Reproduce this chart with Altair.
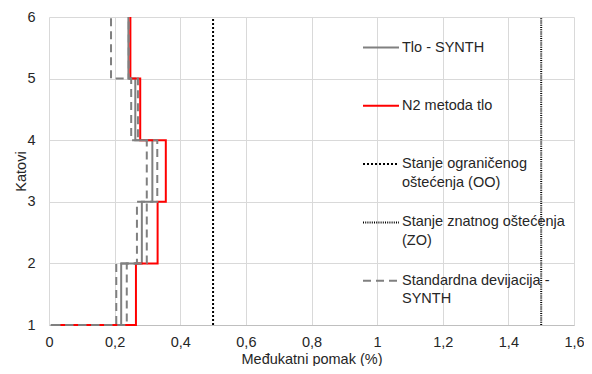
import json
import altair as alt
import pandas as pd

# ---- data ----
floors = [1, 2, 3, 4, 5, 6]
tlo_synth_start = 0.005
tlo_synth = [0.220, 0.283, 0.315, 0.263, 0.242]
n2_start = 0.025
n2_tlo = [0.265, 0.331, 0.356, 0.278, 0.248]
sd_start = 0.01
sd_low = [0.205, 0.268, 0.298, 0.2505, 0.189]
sd_high = [0.237, 0.298, 0.330, 0.271, 0.243]
oo_limit = 0.5
zo_limit = 1.5

series_names = [
    "Tlo - SYNTH",
    "N2 metoda tlo",
    "Stanje ograničenog oštećenja (OO)",
    "Stanje znatnog oštećenja (ZO)",
    "Standardna devijacija - SYNTH",
]
legend_lines = [
    ["Tlo - SYNTH", ""],
    ["N2 metoda tlo", ""],
    ["Stanje ograničenog", "oštećenja (OO)"],
    ["Stanje znatnog oštećenja", "(ZO)"],
    ["Standardna devijacija -", "SYNTH"],
]
series_colors = ["#808080", "#ff0000", "#000000", "#000000", "#808080"]
series_dash = [[1, 0], [1, 0], [2, 2], [1, 1.2], [8, 5]]
series_width = [2, 2, 2, 1, 2]

x_ticks = [0, 0.2, 0.4, 0.6, 0.8, 1.0, 1.2, 1.4, 1.6]


def steps(start, vals):
    pts = [(start, floors[0])]
    for i, v in enumerate(vals):
        pts.append((v, floors[i]))
        pts.append((v, floors[i + 1]))
    return pts


rows = []


def add(series, line, pts):
    for k, (x, y) in enumerate(pts):
        rows.append({"series": series, "line": line, "x": x, "y": y, "ord": k})


add(series_names[0], "tlo", steps(tlo_synth_start, tlo_synth))
add(series_names[1], "n2", steps(n2_start, n2_tlo))
add(series_names[2], "oo", [(oo_limit, floors[0]), (oo_limit, floors[-1])])
add(series_names[3], "zo", [(zo_limit, floors[0]), (zo_limit, floors[-1])])
add(series_names[4], "sd_low", steps(sd_start, sd_low))
add(series_names[4], "sd_high", steps(sd_start, sd_high))

df = pd.DataFrame(rows)

label_expr = " : ".join(
    f"datum.label == {json.dumps(n, ensure_ascii=False)} ? {json.dumps(l, ensure_ascii=False)}"
    for n, l in zip(series_names, legend_lines)
) + " : datum.label"

FONT = "Liberation Sans"
TXT = "#262626"

legend = alt.Legend(
    title=None,
    orient="none",
    legendX=313,
    legendY=11.5,
    symbolType="stroke",
    symbolSize=1296,
    labelExpr=label_expr,
    labelFont=FONT,
    labelFontSize=14.5,
    labelColor=TXT,
    labelBaseline="middle",
    labelLimit=300,
    labelOffset=2,
    rowPadding=14.3,
    padding=0,
)

chart = (
    alt.Chart(df)
    .mark_line(strokeCap="butt", strokeJoin="miter")
    .encode(
        x=alt.X(
            "x:Q",
            scale=alt.Scale(domain=[0, 1.6], nice=False, zero=False),
            axis=alt.Axis(
                values=x_ticks,
                labelExpr="replace(format(datum.value, '.1~f'), '.', ',')",
                labelFlush=False,
                title="Međukatni pomak (%)",
                titleX=262.5,
                titleY=34,
                titleBaseline="middle",
                labelPadding=10,
                domain=True,
                domainColor="#bfbfbf",
                grid=True,
            ),
        ),
        y=alt.Y(
            "y:Q",
            scale=alt.Scale(domain=[floors[0], floors[-1]], nice=False, zero=False),
            axis=alt.Axis(
                values=floors,
                format="d",
                labelFlush=False,
                title="Katovi",
                titleX=-28,
                titleY=154,
                titleBaseline="middle",
                titleAlign="center",
                labelPadding=14,
                domain=False,
                grid=True,
            ),
        ),
        order=alt.Order("ord:Q"),
        detail="line:N",
        color=alt.Color(
            "series:N",
            scale=alt.Scale(domain=series_names, range=series_colors),
            legend=legend,
        ),
        strokeDash=alt.StrokeDash(
            "series:N",
            scale=alt.Scale(domain=series_names, range=series_dash),
            legend=legend,
        ),
        strokeWidth=alt.StrokeWidth(
            "series:N",
            scale=alt.Scale(domain=series_names, range=series_width),
            legend=legend,
        ),
    )
    .properties(
        width=525,
        height=308,
        autosize=alt.AutoSizeParams(type="none"),
        padding={"left": 41, "top": 9, "right": 10, "bottom": 41},
    )
    .configure(background="white", style={"guide-label": {"lineHeight": 18.5}})
    .configure_axis(
        labelFont=FONT,
        labelFontSize=14.5,
        labelColor=TXT,
        titleFont=FONT,
        titleFontSize=14.5,
        titleFontWeight="normal",
        titleColor=TXT,
        ticks=False,
        tickSize=0,
        gridColor="#d9d9d9",
        gridWidth=1,
    )
    .configure_view(strokeWidth=0)
)

chart.save("out.html", embed_options={"renderer": "svg", "actions": False})
